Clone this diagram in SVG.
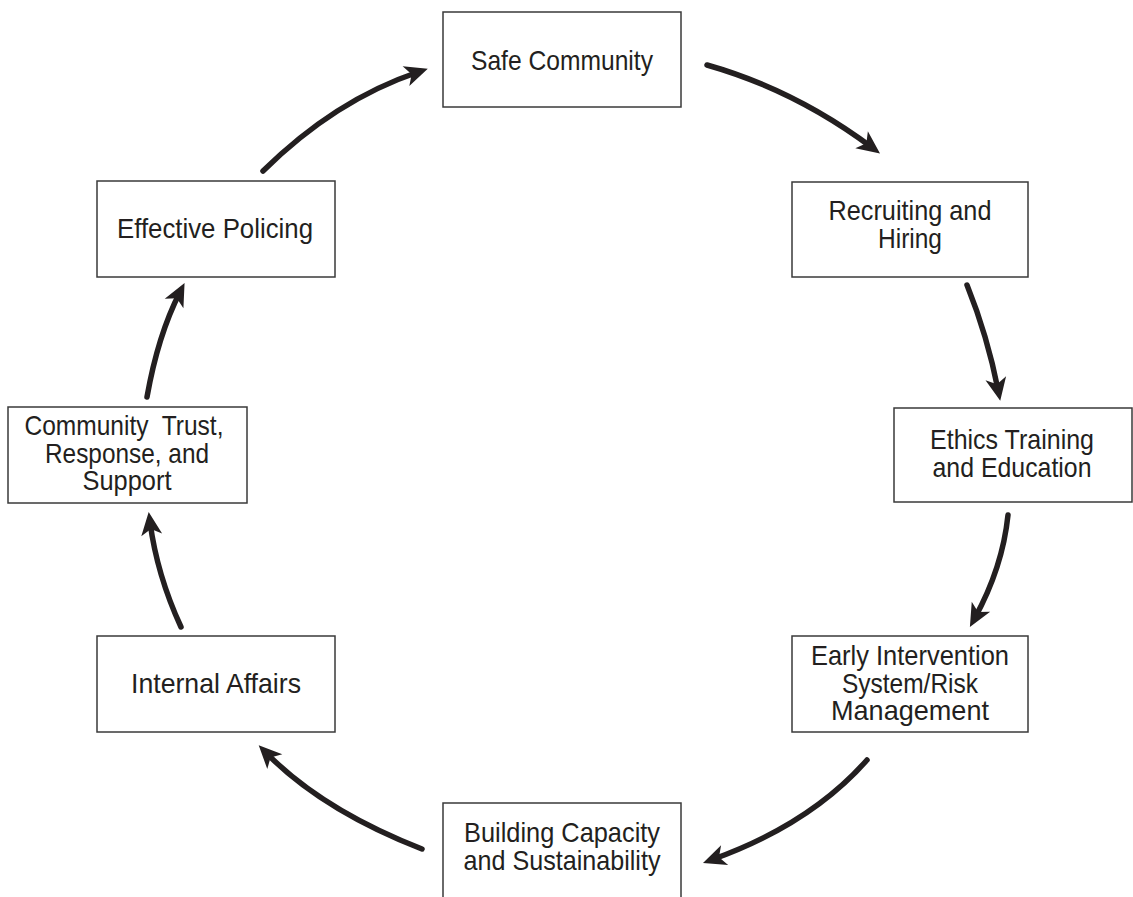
<svg xmlns="http://www.w3.org/2000/svg" width="1133" height="897" viewBox="0 0 1133 897">
<style>
.box{fill:#fff;stroke:#3a3a3a;stroke-width:1.5}
.t{font-family:"Liberation Sans Narrow","Liberation Sans",Arial,sans-serif;font-size:28px;fill:#231f20;text-anchor:middle}
.c{fill:none;stroke:#231f20;stroke-width:5.5;stroke-linecap:round}
</style>
<defs>
<marker id="ah" markerUnits="userSpaceOnUse" viewBox="-16 -12 30 24" markerWidth="30" markerHeight="24" refX="0" refY="0" orient="auto">
<path d="M10,0 L-13,-10.5 L-7,0 L-13,10.5 Z" fill="#231f20"/>
</marker>
</defs>
<rect width="1133" height="897" fill="#fff"/>
<g id="n-safe"><rect class="box" x="443" y="12" width="238" height="95"/><text class="t" x="562" y="70" textLength="182" lengthAdjust="spacingAndGlyphs">Safe Community</text></g>
<g id="n-recruit"><rect class="box" x="792" y="182" width="236" height="95"/><text class="t" x="910" y="220" textLength="163" lengthAdjust="spacingAndGlyphs">Recruiting and</text><text class="t" x="910" y="248" textLength="64" lengthAdjust="spacingAndGlyphs">Hiring</text></g>
<g id="n-ethics"><rect class="box" x="894" y="408" width="238" height="94"/><text class="t" x="1012" y="449" textLength="164" lengthAdjust="spacingAndGlyphs">Ethics Training</text><text class="t" x="1012" y="477" textLength="159" lengthAdjust="spacingAndGlyphs">and Education</text></g>
<g id="n-early"><rect class="box" x="792" y="636" width="236" height="96"/><text class="t" x="910" y="665" textLength="198" lengthAdjust="spacingAndGlyphs">Early Intervention</text><text class="t" x="910" y="693" textLength="136" lengthAdjust="spacingAndGlyphs">System/Risk</text><text class="t" x="910" y="720" textLength="158" lengthAdjust="spacingAndGlyphs">Management</text></g>
<g id="n-building"><rect class="box" x="443" y="803" width="238" height="110"/><text class="t" x="562" y="842" textLength="196" lengthAdjust="spacingAndGlyphs">Building Capacity</text><text class="t" x="562" y="870" textLength="197" lengthAdjust="spacingAndGlyphs">and Sustainability</text></g>
<g id="n-internal"><rect class="box" x="97" y="636" width="238" height="96"/><text class="t" x="216" y="693" textLength="170" lengthAdjust="spacingAndGlyphs">Internal Affairs</text></g>
<g id="n-trust"><rect class="box" x="8" y="407" width="239" height="96"/><text class="t" x="124" y="435" textLength="199" lengthAdjust="spacingAndGlyphs" xml:space="preserve">Community  Trust,</text><text class="t" x="127" y="463" textLength="164" lengthAdjust="spacingAndGlyphs">Response, and</text><text class="t" x="127" y="490" textLength="89" lengthAdjust="spacingAndGlyphs">Support</text></g>
<g id="n-effective"><rect class="box" x="97" y="181" width="238" height="96"/><text class="t" x="215" y="238" textLength="196" lengthAdjust="spacingAndGlyphs">Effective Policing</text></g>
<g id="connectors">
<path class="c" marker-end="url(#ah)" d="M707,65 Q795,90 872,147.5"/>
<path class="c" marker-end="url(#ah)" d="M967,285 Q987.5,336 998.3,391"/>
<path class="c" marker-end="url(#ah)" d="M1008,515 Q1002.6,567.4 974.7,618.2"/>
<path class="c" marker-end="url(#ah)" d="M867,760 Q810.3,824.3 712.4,859.5"/>
<path class="c" marker-end="url(#ah)" d="M422,849 Q322,810 265.7,752.4"/>
<path class="c" marker-end="url(#ah)" d="M181,627 Q157,575 150,522"/>
<path class="c" marker-end="url(#ah)" d="M147,397 Q158,335 180,292"/>
<path class="c" marker-end="url(#ah)" d="M263,171 Q335,100 418.3,72"/>
</g>
</svg>
